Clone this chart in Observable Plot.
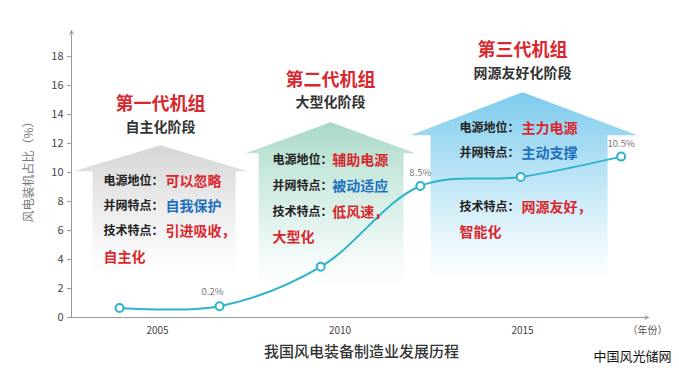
<!DOCTYPE html>
<html><head><meta charset="utf-8">
<script src="https://cdn.jsdelivr.net/npm/d3@7"></script>
<script src="https://cdn.jsdelivr.net/npm/@observablehq/plot@0.6"></script>
<style>
body{margin:0;background:#fff}
#chart{width:679px;height:392px;position:relative}
g[aria-label^="y-axis"] text{font-size:11px;fill:#444}
g[aria-label^="x-axis"] text{font-size:10px;fill:#444}
g[aria-label^="y-axis"] line, g[aria-label^="y-axis"] path{stroke:#999}
</style>
</head><body><div id="chart"></div>
<script>
// ---- data ----
const years  = [2003.96, 2006.7, 2009.47, 2012.2, 2014.95, 2017.7];
const shares = [0.66, 0.78, 3.5, 9.07, 9.7, 11.1];
const pointLabels = ["", "0.2%", "", "8.5%", "", "10.5%"];
const xTicks = [2005, 2010, 2015];
const yTicks = [0, 2, 4, 6, 8, 10, 12, 14, 16, 18];

const generations = ["第一代机组", "第二代机组", "第三代机组"];
const stages = ["自主化阶段", "大型化阶段", "网源友好化阶段"];
const rowLabels = ["电源地位：", "并网特点：", "技术特点："];
const roles = ["可以忽略", "辅助电源", "主力电源"];
const gridTraits = ["自我保护", "被动适应", "主动支撑"];
const techTraits = ["引进吸收，", "低风速，", "网源友好，"];
const techTraits2 = ["自主化", "大型化", "智能化"];

// ---- layout (chart units) ----
const xMin = 2002.644, xMax = 2018.45, yMax = 19.8;
const houses = [
  [[2003.22,2.9],[2003.22,10.09],[2002.70,10.09],[2005.08,11.88],[2007.47,10.09],[2007.14,10.09],[2007.14,2.9]],
  [[2007.77,2.2],[2007.77,11.33],[2007.41,11.33],[2009.74,13.47],[2012.07,11.33],[2011.74,11.33],[2011.74,2.2]],
  [[2012.48,2.6],[2012.48,12.57],[2011.93,12.57],[2015.0,15.54],[2018.15,12.57],[2017.33,12.57],[2017.33,2.6]]
];
const titleX = [2005.08, 2009.74, 2015.0];
const titleY = [14.68, 16.37, 18.43];
const stageY = [13.12, 14.85, 16.85];
const labelX = [2003.52, 2008.15, 2013.27];
const valueX = [2005.22, 2009.79, 2014.97];
const rowY = [[9.40, 7.68, 5.95, 4.16], [10.85, 9.06, 7.26, 5.54], [13.06, 11.33, 7.61, 5.88]];

const RED = "#d9272e", BLUE = "#1d6fc0", LINE = "#2fb2cc";
const points = years.map((x, i) => ({x, y: shares[i], label: pointLabels[i]}));

const titles = generations.map((t, i) => ({x: titleX[i], y: titleY[i], t}));
const subs = stages.map((t, i) => ({x: titleX[i], y: stageY[i], t}));
const labs = [], vals = [];
for (let i = 0; i < 3; i++) {
  rowLabels.forEach((t, r) => labs.push({x: labelX[i], y: rowY[i][r], t}));
  vals.push({x: valueX[i], y: rowY[i][0], t: roles[i], c: RED});
  vals.push({x: valueX[i], y: rowY[i][1], t: gridTraits[i], c: BLUE});
  vals.push({x: valueX[i], y: rowY[i][2], t: techTraits[i], c: RED});
  vals.push({x: labelX[i], y: rowY[i][3], t: techTraits2[i], c: RED});
}

const font = "'Noto Sans CJK SC', 'Noto Sans', sans-serif";
const chart = Plot.plot({
  width: 679, height: 392,
  marginLeft: 71, marginRight: 31, marginTop: 30, marginBottom: 75,
  style: {fontFamily: font, fontSize: "10px", color: "#444", background: "#fff", overflow: "visible"},
  x: {domain: [xMin, xMax], ticks: xTicks, tickFormat: d => String(d), tickSize: 0, tickPadding: 9, label: null},
  y: {domain: [0, yMax], ticks: yTicks, tickSize: 4, tickPadding: 4, label: null},
  marks: [
    ...houses.map((h, i) => Plot.line(h, {x: d => d[0], y: d => d[1], fill: `url(#house${i})`, stroke: "none"})),
    Plot.arrow([0], {x1: xMin, y1: 0, x2: xMin, y2: yMax, stroke: "#999", strokeWidth: 1, headLength: 6, headAngle: 50}),
    Plot.arrow([0], {x1: xMin, y1: 0, x2: xMax, y2: 0, stroke: "#999", strokeWidth: 1, headLength: 6, headAngle: 50}),
    Plot.line(points, {x: "x", y: "y", curve: "catmull-rom", stroke: LINE, strokeWidth: 2}),
    Plot.dot(points, {x: "x", y: "y", r: 4, fill: "#fff", stroke: LINE, strokeWidth: 2}),
    Plot.text(points.filter(d => d.label === "0.2%"), {x: "x", y: "y", text: "label", dx: -7, dy: -14, fill: "#777", fontSize: 9.5}),
    Plot.text(points.filter(d => d.label && d.label !== "0.2%"), {x: "x", y: "y", text: "label", dy: -13, fill: "#777", fontSize: 9.5}),
    Plot.text(titles, {x: "x", y: "y", text: "t", fill: RED, fontSize: 18, fontWeight: "bold"}),
    Plot.text(subs, {x: "x", y: "y", text: "t", fill: "#333", fontSize: 14, fontWeight: "bold"}),
    Plot.text(labs, {x: "x", y: "y", text: "t", fill: "#222", fontSize: 12, fontWeight: "bold", textAnchor: "start"}),
    Plot.text(vals, {x: "x", y: "y", text: "t", fill: d => d.c, fontSize: 14, fontWeight: "bold", textAnchor: "start"}),
    Plot.text(["风电装机占比（%）"], {frameAnchor: "left", textAnchor: "middle", dx: -42, dy: -5, rotate: -90, fill: "#777", fontSize: 12}),
    Plot.text(["我国风电装备制造业发展历程"], {frameAnchor: "bottom", textAnchor: "middle", dx: 1.5, dy: 39, fill: "#333", fontSize: 15, fontWeight: 500}),
    Plot.text(["（年份）"], {frameAnchor: "bottom-right", textAnchor: "middle", dx: -1, dy: 16, fill: "#555", fontSize: 10}),
    Plot.text(["中国风光储网"], {frameAnchor: "bottom-right", textAnchor: "middle", dx: -16, dy: 43, fill: "#111", fontSize: 13})
  ]
});

// gradients for the house shapes
const grads = [
  [["0", "#d6d6d6"], ["0.3", "#e4e4e4"], ["0.8", "#f9f9f9"], ["1", "#ffffff"]],
  [["0", "#a8d8c6"], ["0.3", "#c8e8dc"], ["0.8", "#f1f9f6"], ["1", "#ffffff"]],
  [["0", "#7ccbed"], ["0.3", "#a8dcf2"], ["0.8", "#eaf7fc"], ["1", "#ffffff"]]
];
const defs = d3.select(chart).insert("defs", ":first-child");
grads.forEach((stops, i) => {
  const g = defs.append("linearGradient").attr("id", `house${i}`).attr("x1", 0).attr("y1", 0).attr("x2", 0).attr("y2", 1);
  stops.forEach(([o, c]) => g.append("stop").attr("offset", o).attr("stop-color", c));
});
document.getElementById("chart").appendChild(chart);
</script>
</body></html>
